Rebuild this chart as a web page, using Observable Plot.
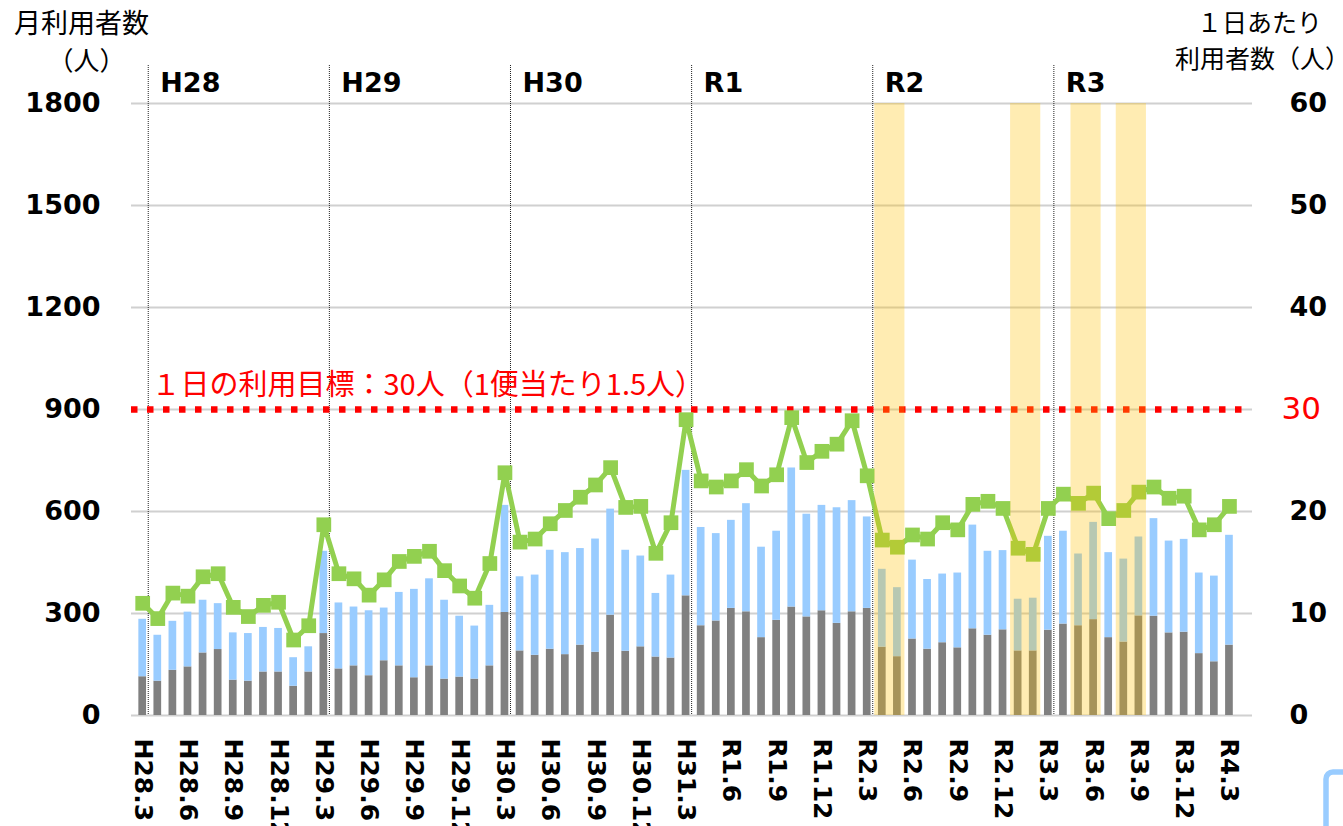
<!DOCTYPE html>
<html><head><meta charset="utf-8">
<script src="https://cdn.jsdelivr.net/npm/d3@7"></script>
<script src="https://cdn.jsdelivr.net/npm/@observablehq/plot@0.6"></script>
<style>body{margin:0;background:#fff;} svg{display:block;}</style>
</head><body><div id="chart"></div>
<script>
// ---- data ----
const months = [
  "H28.3","H28.4","H28.5","H28.6","H28.7","H28.8","H28.9","H28.10","H28.11","H28.12","H29.1","H29.2",
  "H29.3","H29.4","H29.5","H29.6","H29.7","H29.8","H29.9","H29.10","H29.11","H29.12","H30.1","H30.2",
  "H30.3","H30.4","H30.5","H30.6","H30.7","H30.8","H30.9","H30.10","H30.11","H30.12","H31.1","H31.2",
  "H31.3","H31.4","R1.5","R1.6","R1.7","R1.8","R1.9","R1.10","R1.11","R1.12","R2.1","R2.2",
  "R2.3","R2.4","R2.5","R2.6","R2.7","R2.8","R2.9","R2.10","R2.11","R2.12","R3.1","R3.2",
  "R3.3","R3.4","R3.5","R3.6","R3.7","R3.8","R3.9","R3.10","R3.11","R3.12","R4.1","R4.2",
  "R4.3"
];
// monthly users, lower (gray) segment
const lowerUsers = [114,101,133,143,184,194,104,101,128,128,86,128,
  241,137,146,117,161,146,111,146,107,113,107,146,
  303,190,177,195,179,207,186,295,189,202,172,169,
  352,264,278,315,305,229,280,319,290,308,271,305,
  315,201,173,225,195,214,199,255,236,252,190,190,
  251,269,264,282,229,216,293,292,243,245,182,158,
  207];
// monthly users, upper (light blue) segment
const upperUsers = [169,135,144,161,155,135,139,140,131,128,84,74,
  242,194,173,191,155,216,260,256,232,179,156,178,
  315,218,236,291,300,284,333,312,297,267,187,244,
  369,289,257,259,318,266,262,409,302,310,340,327,
  269,229,203,232,205,202,220,305,247,233,152,155,
  276,273,211,286,250,244,232,287,270,273,237,252,
  323];
// users per day (right axis)
const dailyUsers = [11.0,9.5,12.0,11.7,13.6,13.9,10.6,9.7,10.8,11.1,7.4,8.8,
  18.7,13.9,13.4,11.8,13.3,15.1,15.6,16.1,14.2,12.7,11.5,14.9,
  23.8,17.0,17.3,18.8,20.1,21.4,22.6,24.3,20.4,20.5,15.9,18.9,
  29.0,23.0,22.4,23.0,24.1,22.5,23.6,29.2,24.8,25.9,26.6,28.9,
  23.5,17.2,16.5,17.7,17.3,18.9,18.2,20.7,21.0,20.3,16.4,15.8,
  20.3,21.7,20.8,21.8,19.3,20.1,21.9,22.4,21.3,21.5,18.2,18.7,
  20.5];
const tickLabels = ["H28.3","H28.6","H28.9","H28.12","H29.3","H29.6","H29.9","H29.12",
  "H30.3","H30.6","H30.9","H30.12","H31.3","R1.6","R1.9","R1.12","R2.3","R2.6","R2.9","R2.12",
  "R3.3","R3.6","R3.9","R3.12","R4.3"];
const fiscalLabels = ["H28","H29","H30","R1","R2","R3"];
const fiscalStarts = ["H28.4","H29.4","H30.4","H31.4","R2.4","R3.4"];
const bandStarts = ["R2.4","R3.1","R3.5","R3.8"];
const bandEnds   = ["R2.5","R3.2","R3.6","R3.9"];
const leftTicks = [0,300,600,900,1200,1500,1800];
const rightTicks = [0,10,20,40,50,60];
const targetDaily = 30;
const targetText = "１日の利用目標：30人（1便当たり1.5人）";

// ---- derived tables ----
const ratio = leftTicks[leftTicks.length-1] / rightTicks[rightTicks.length-1];
const idx = m => months.indexOf(m);
const rows = months.map((m,i)=>({i, m, lower: lowerUsers[i], upper: upperUsers[i], total: lowerUsers[i]+upperUsers[i], daily: dailyUsers[i]}));
const bands = bandStarts.map((s,k)=>({s: idx(s), e: idx(bandEnds[k])}));
const fiscal = fiscalLabels.map((l,k)=>({label:l, i: idx(fiscalStarts[k])}));
const tickIdx = tickLabels.map(idx);

const GRAY="#808080", BLUE="#99ccff", GREEN="#92d050", RED="#ff0000";
const JP = "'Noto Sans CJK JP', sans-serif";
const half = 0.255;

const chart = Plot.plot({
  width: 1343, height: 826,
  marginLeft: 131, marginRight: 91, marginTop: 103, marginBottom: 111,
  style: {fontFamily: "'DejaVu Sans', sans-serif", fontSize: "26px", color: "#000", background: "#fff"},
  x: {type: "linear", domain: [-0.5, months.length-0.5], range: [134.65, 1236.5]},
  y: {domain: [0, 1800]},
  marks: [
    Plot.gridY(leftTicks, {stroke: "#d0d0d0", strokeWidth: 2, strokeOpacity: 1}),
    Plot.rect(rows, {x1: d=>d.i-half, x2: d=>d.i+half, y1: 0, y2: "lower", fill: GRAY}),
    Plot.rect(rows, {x1: d=>d.i-half, x2: d=>d.i+half, y1: "lower", y2: "total", fill: BLUE}),
    Plot.ruleX(fiscal, {x: d=>d.i-0.5, dx: -2, insetTop: -38, stroke: "#222", strokeWidth: 1, strokeDasharray: "1,1"}),
    Plot.ruleY([targetDaily*ratio], {stroke: RED, strokeWidth: 6.5, strokeDasharray: "6.5,9.5", insetRight: 9}),
    Plot.line(rows, {x: "i", y: d=>d.daily*ratio, stroke: GREEN, strokeWidth: 5}),
    Plot.dot(rows, {x: "i", y: d=>d.daily*ratio, symbol: "square", r: 8.3, fill: GREEN}),
    Plot.rect(bands, {x1: d=>d.s-0.5, x2: d=>d.e+0.5, fill: "#ffc000", fillOpacity: 0.3}),
    Plot.axisY(leftTicks, {anchor: "left", tickSize: 0, tickPadding: 31, tickFormat: d=>String(d), fontWeight: "bold", fontSize: 27, label: null}),
    Plot.axisY(rightTicks.map(d=>d*ratio), {anchor: "right", tickSize: 0, tickPadding: 37, tickFormat: d=>String(d/ratio), fontWeight: "bold", fontSize: 27, label: null}),
    Plot.text([targetDaily], {y: d=>d*ratio, frameAnchor: "right", dx: 29, textAnchor: "start", lineAnchor: "middle", text: d=>String(d), fill: RED, fontSize: 31}),
    Plot.text([targetText], {y: targetDaily*ratio, frameAnchor: "left", dx: 20, dy: -24, textAnchor: "start", lineAnchor: "middle", text: d=>d, fill: RED, fontSize: 29, fontFamily: JP}),
    Plot.axisX(tickIdx, {anchor: "bottom", tickSize: 0, tickPadding: 23, tickRotate: 90, tickFormat: i=>months[i], fontWeight: "bold", fontSize: 25, label: null}),
    Plot.text(fiscal, {x: d=>d.i-0.5, frameAnchor: "top", dx: 10, dy: -20, textAnchor: "start", lineAnchor: "middle", text: "label", fontWeight: "bold", fontSize: 27}),
    Plot.text(["月利用者数"], {frameAnchor: "top-left", dx: -50, dy: -79, textAnchor: "middle", lineAnchor: "middle", text: d=>d, fontSize: 27, fontFamily: JP}),
    Plot.text(["（人）"], {frameAnchor: "top-left", dx: -45, dy: -42, textAnchor: "middle", lineAnchor: "middle", text: d=>d, fontSize: 26, fontFamily: JP}),
    Plot.text(["１日あたり"], {frameAnchor: "top-right", dx: 7, dy: -80, textAnchor: "middle", lineAnchor: "middle", text: d=>d, fontSize: 25, fontFamily: JP}),
    Plot.text(["利用者数（人）"], {frameAnchor: "top-right", dx: 10, dy: -44, textAnchor: "middle", lineAnchor: "middle", text: d=>d, fontSize: 25, fontFamily: JP})
  ]
});
document.getElementById("chart").appendChild(chart);
d3.select(chart).append("rect")
  .attr("x", 1326).attr("y", 772).attr("width", 80).attr("height", 80).attr("rx", 7)
  .attr("fill", "none").attr("stroke", BLUE).attr("stroke-width", 5.5);
</script>
</body></html>
